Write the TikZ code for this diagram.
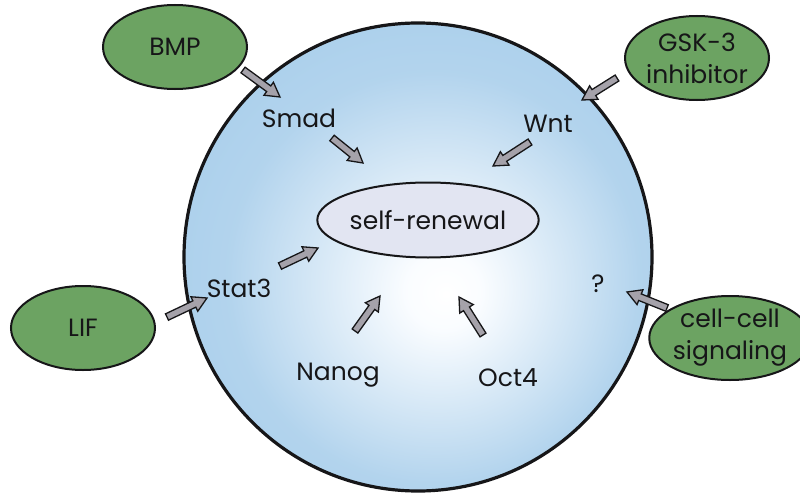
\documentclass[tikz,border=0pt]{standalone}
\usepackage{fontspec}
\setmainfont{Poppins}
\usetikzlibrary{calc,shapes.geometric}
\definecolor{cellgreen}{RGB}{108,163,98}
\definecolor{arrowgray}{RGB}{165,162,170}
\definecolor{srfill}{RGB}{226,229,242}
\definecolor{inkc}{RGB}{22,22,24}
\pgfdeclareradialshading{cellshade}{\pgfpoint{3bp}{-4bp}}{rgb(0bp)=(1,1,1); rgb(4bp)=(0.98,0.99,1); rgb(22bp)=(0.7,0.83,0.93); rgb(50bp)=(0.58,0.77,0.91)}
\newcommand\blockarrow[2]{%
  \coordinate (bah) at ($(#2)!14pt!(#1)$);
  \filldraw[barrow] ($(#1)!3.5pt!90:(#2)$) -- ($(bah)!3.5pt!90:(#2)$) -- ($(bah)!8pt!90:(#2)$) -- (#2) -- ($(bah)!8pt!-90:(#2)$) -- ($(bah)!3.5pt!-90:(#2)$) -- ($(#1)!3.5pt!-90:(#2)$) -- cycle;}
\begin{document}
\begin{tikzpicture}[x=1pt,y=-1pt,
  font=\fontsize{25}{32}\selectfont,
  greenell/.style={ellipse, draw=inkc, line width=2pt, fill=cellgreen, minimum width=144pt, minimum height=84pt, inner sep=0pt, text=inkc, align=center},
  lbl/.style={text=inkc, inner sep=0pt, anchor=base},
  barrow/.style={draw=inkc, line width=1.3pt, fill=arrowgray, line join=miter}]
\useasboundingbox (0,0) rectangle (800,495);
\node[circle, minimum size=468pt, draw=inkc, line width=3.2pt, shading=cellshade] (cell) at (418,257) {};
\node[ellipse, draw=inkc, line width=2pt, fill=srfill, minimum width=200pt, minimum height=75pt, inner sep=0pt, text=inkc] (sr) at (428,220) {self-renewal};
\node[greenell] (bmp) at (175,47) {BMP};
\node[greenell] (gsk) at (697,58) {GSK-3\\inhibitor};
\node[greenell] (lif) at (83,328) {LIF};
\node[greenell] (ccs) at (730,338) {cell-cell\\signaling};
\node[lbl] (smad) at (299,127) {Smad};
\node[lbl] (wnt) at (548,132) {Wnt};
\node[lbl] (stat) at (239,297) {Stat3};
\node[lbl] (nanog) at (338,380) {Nanog};
\node[lbl] (oct) at (508,386) {Oct4};
\node[lbl] (q) at (598,292) {?};
% arrow end points
\coordinate (bmpT) at (243,70);   \coordinate (bmpH) at (280,97);
\coordinate (gskT) at (617,78);   \coordinate (gskH) at (582,100);
\coordinate (lifT) at (167,317);  \coordinate (lifH) at (207,298);
\coordinate (ccsT) at (667,308);  \coordinate (ccsH) at (627,292);
\coordinate (smadT) at (332,138); \coordinate (smadH) at (363,163);
\coordinate (wntT) at (530,142);  \coordinate (wntH) at (493,166);
\coordinate (statT) at (280,266); \coordinate (statH) at (318,248);
\coordinate (nanT) at (355,331);  \coordinate (nanH) at (380,296);
\coordinate (octT) at (483,335);  \coordinate (octH) at (459,297);
\blockarrow{bmpT}{bmpH}
\blockarrow{gskT}{gskH}
\blockarrow{lifT}{lifH}
\blockarrow{ccsT}{ccsH}
\blockarrow{smadT}{smadH}
\blockarrow{wntT}{wntH}
\blockarrow{statT}{statH}
\blockarrow{nanT}{nanH}
\blockarrow{octT}{octH}
\end{tikzpicture}
\end{document}
